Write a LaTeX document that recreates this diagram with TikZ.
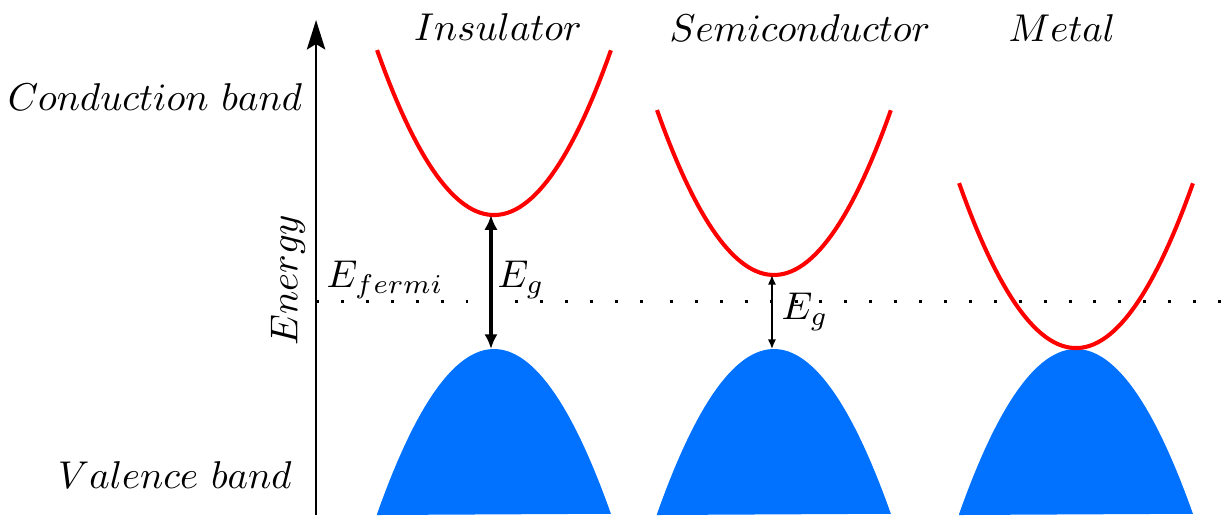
\documentclass[tikz,border=0pt]{standalone}
\usepackage{xcolor}
\usepackage{tikz}
\usetikzlibrary{arrows.meta}
\definecolor{bandred}{RGB}{255, 0, 0}
\definecolor{bandblue}{RGB}{0, 114, 255}

\begin{document}
\begin{tikzpicture}[every node/.style={align=center, font=\normalsize, scale=1.05}, cband/.style={bandred, line width=1.1pt}, vband/.style={fill=bandblue, draw=none}, fermiline/.style={line width=0.8pt, dash pattern=on 0.8pt off 5.95pt}]
\useasboundingbox (0,0) rectangle (11.638,4.905);

% Energy axis
\coordinate (axbot) at (3.01,0);
\coordinate (axtop) at (3.01,4.714);
\draw[line width=0.5pt, -{Stealth[length=8pt, width=5pt, inset=1.5pt]}] (axbot) -- (axtop);
\node[rotate=90] (energy) at (2.743,2.238) {$Energy$};

% Labels
\node (cond) at (1.476,3.981) {$Conduction\ band$};
\node (val) at (1.667,0.381) {$Valence\ band$};
\node (fermi) at (3.667,2.238) {$E_{fermi}$};

% Fermi level
\coordinate (f1) at (3.01,2.038);
\coordinate (f2) at (6.305,2.038);
\coordinate (f3) at (6.381,2.038);
\coordinate (f4) at (11.638,2.038);
\draw[fermiline] (f1) -- (f2);
\draw[fermiline] (f3) -- (f4);

% Insulator
\node (ins) at (4.743,4.648) {$Insulator$};
\fill[vband] (3.591,0) -- plot[domain=-1.114:1.114, samples=60] ({4.705+\x},{1.581-1.266*\x*\x}) -- cycle;
\draw[cband, domain=-1.114:1.114, samples=60] plot ({4.705+\x},{2.857+1.266*\x*\x});
\coordinate (ins-c) at (4.676,2.857);
\coordinate (ins-v) at (4.676,1.581);
\draw[line width=1pt, {Latex[length=4pt, width=3.6pt]}-{Latex[length=4pt, width=3.6pt]}] (ins-c) -- (ins-v);
\node (ins-gap) at (4.962,2.238) {$E_g$};

% Semiconductor
\node (semi) at (7.619,4.638) {$Semiconductor$};
\fill[vband] (6.257,0) -- plot[domain=-1.114:1.114, samples=60] ({7.371+\x},{1.581-1.266*\x*\x}) -- cycle;
\draw[cband, domain=-1.114:1.114, samples=60] plot ({7.371+\x},{2.286+1.266*\x*\x});
\coordinate (semi-c) at (7.352,2.286);
\coordinate (semi-v) at (7.352,1.581);
\draw[{Latex[length=2.6pt, width=2.2pt]}-{Latex[length=2.6pt, width=2.2pt]}] (semi-c) -- (semi-v);
\node (semi-gap) at (7.667,1.933) {$E_g$};

% Metal
\node (metal) at (10.114,4.638) {$Metal$};
\fill[vband] (9.134,0) -- plot[domain=-1.114:1.114, samples=60] ({10.248+\x},{1.581-1.266*\x*\x}) -- cycle;
\draw[cband, domain=-1.114:1.114, samples=60] plot ({10.248+\x},{1.590+1.266*\x*\x});
\end{tikzpicture}
\end{document}
